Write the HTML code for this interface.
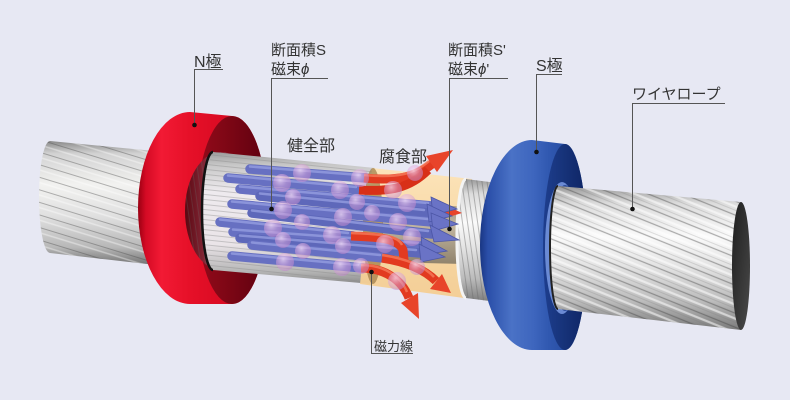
<!DOCTYPE html>
<html><head><meta charset="utf-8">
<style>
html,body{margin:0;padding:0;background:#e7e8f3;}
svg{display:block;}
text{font-family:"Liberation Sans","Noto Sans CJK JP",sans-serif;fill:#333;}
</style></head>
<body>
<svg width="790" height="400" viewBox="0 0 790 400" xmlns="http://www.w3.org/2000/svg">
<defs>
  <linearGradient id="ropeL" x1="0" y1="0" x2="0" y2="1">
    <stop offset="0" stop-color="#8a8a8a"/>
    <stop offset="0.1" stop-color="#d2d2d2"/>
    <stop offset="0.35" stop-color="#f2f2f0"/>
    <stop offset="0.6" stop-color="#e0e0e0"/>
    <stop offset="0.85" stop-color="#b8b8b8"/>
    <stop offset="1" stop-color="#6e6e6e"/>
  </linearGradient>
  <linearGradient id="ropeR" x1="0" y1="0" x2="0" y2="1">
    <stop offset="0" stop-color="#9a9a9a"/>
    <stop offset="0.12" stop-color="#dcdcdc"/>
    <stop offset="0.35" stop-color="#fafafa"/>
    <stop offset="0.55" stop-color="#e4e4e4"/>
    <stop offset="0.8" stop-color="#bcbcbc"/>
    <stop offset="1" stop-color="#7a7a7a"/>
  </linearGradient>
  <linearGradient id="ropeM" x1="0" y1="0" x2="0" y2="1">
    <stop offset="0" stop-color="#9c9c9c"/>
    <stop offset="0.1" stop-color="#c8c8c8"/>
    <stop offset="0.3" stop-color="#eeeaee"/>
    <stop offset="0.7" stop-color="#eae4e8"/>
    <stop offset="0.9" stop-color="#b8b8b8"/>
    <stop offset="1" stop-color="#8a8a8a"/>
  </linearGradient>
  <linearGradient id="cap" x1="0" y1="0" x2="1" y2="1">
    <stop offset="0" stop-color="#1e1e1e"/>
    <stop offset="1" stop-color="#4a4a4a"/>
  </linearGradient>
  <pattern id="stL" patternUnits="userSpaceOnUse" width="400" height="12" patternTransform="rotate(17)">
    <line x1="0" y1="2" x2="400" y2="2" stroke="#4a4a4a" stroke-width="1.1" opacity=".4"/>
    <line x1="0" y1="7" x2="400" y2="7" stroke="#ffffff" stroke-width="1.6" opacity=".4"/>
  </pattern>
  <pattern id="stR" patternUnits="userSpaceOnUse" width="500" height="13" patternTransform="rotate(22)">
    <line x1="0" y1="2" x2="500" y2="2" stroke="#404040" stroke-width="1.2" opacity=".42"/>
    <line x1="0" y1="7" x2="500" y2="7" stroke="#ffffff" stroke-width="2.2" opacity=".55"/>
    <line x1="0" y1="10.5" x2="500" y2="10.5" stroke="#777" stroke-width="0.8" opacity=".3"/>
  </pattern>
  <pattern id="stM" patternUnits="userSpaceOnUse" width="400" height="5" patternTransform="rotate(6)">
    <line x1="0" y1="2" x2="400" y2="2" stroke="#8a8a8a" stroke-width="0.9" opacity=".4"/>
  </pattern>
  <pattern id="stV" patternUnits="userSpaceOnUse" width="5" height="300" patternTransform="rotate(-8)">
    <line x1="2" y1="0" x2="2" y2="300" stroke="#6a6a6a" stroke-width="1" opacity=".45"/>
  </pattern>
  <linearGradient id="redHull" gradientUnits="userSpaceOnUse" x1="138" y1="0" x2="267" y2="0">
    <stop offset="0" stop-color="#9a0012"/>
    <stop offset="0.06" stop-color="#d40a24"/>
    <stop offset="0.18" stop-color="#f21a34"/>
    <stop offset="0.4" stop-color="#e61028"/>
    <stop offset="0.7" stop-color="#d80a22"/>
    <stop offset="1" stop-color="#b80018"/>
  </linearGradient>
  <linearGradient id="redFace" gradientUnits="userSpaceOnUse" x1="197" y1="0" x2="267" y2="0">
    <stop offset="0" stop-color="#940a1a"/>
    <stop offset="0.5" stop-color="#7a0614"/>
    <stop offset="1" stop-color="#5e0010"/>
  </linearGradient>
  <linearGradient id="redBore" gradientUnits="userSpaceOnUse" x1="185" y1="0" x2="210" y2="0">
    <stop offset="0" stop-color="#5a0812"/>
    <stop offset="1" stop-color="#8e3040"/>
  </linearGradient>
  <linearGradient id="blueHull" gradientUnits="userSpaceOnUse" x1="479" y1="0" x2="587" y2="0">
    <stop offset="0" stop-color="#17337e"/>
    <stop offset="0.08" stop-color="#2a4ea8"/>
    <stop offset="0.3" stop-color="#4a72c6"/>
    <stop offset="0.5" stop-color="#3e66be"/>
    <stop offset="0.65" stop-color="#3058b0"/>
    <stop offset="1" stop-color="#1e4090"/>
  </linearGradient>
  <linearGradient id="blueFace" gradientUnits="userSpaceOnUse" x1="543" y1="0" x2="587" y2="0">
    <stop offset="0" stop-color="#1e3e8e"/>
    <stop offset="0.5" stop-color="#163278"/>
    <stop offset="1" stop-color="#0e2464"/>
  </linearGradient>
  <linearGradient id="beige" x1="0" y1="0" x2="0" y2="1">
    <stop offset="0" stop-color="#fde3b6"/>
    <stop offset="0.5" stop-color="#f8d7a0"/>
    <stop offset="1" stop-color="#f4cd92"/>
  </linearGradient>
  <linearGradient id="core" x1="0" y1="0" x2="0" y2="1">
    <stop offset="0" stop-color="#7a7468"/>
    <stop offset="0.4" stop-color="#b0aa9e"/>
    <stop offset="1" stop-color="#6e685c"/>
  </linearGradient>
  <radialGradient id="sph" cx="0.4" cy="0.35" r="0.65">
    <stop offset="0" stop-color="#f6dcf6" stop-opacity="0.75"/>
    <stop offset="0.6" stop-color="#dca4dc" stop-opacity="0.5"/>
    <stop offset="1" stop-color="#c088cc" stop-opacity="0.55"/>
  </radialGradient>
</defs>

<rect width="790" height="400" fill="#e7e8f3"/>

<!-- LEFT ROPE -->
<path d="M50,141 L165,152 L165,266 L50,253 A11 56 0 0 1 50,141 Z" fill="url(#ropeL)"/>
<path d="M50,141 L165,152 L165,266 L50,253 A11 56 0 0 1 50,141 Z" fill="url(#stL)"/>

<!-- RED RING (N) -->
<path d="M190,112 L232,116 A35 94 0 0 1 232,304 L190,304 A52 96 0 0 1 190,112 Z" fill="url(#redHull)"/>
<ellipse cx="232" cy="210" rx="35" ry="94" fill="url(#redFace)"/>
<ellipse cx="221" cy="211" rx="36" ry="59" fill="url(#redBore)"/>
<ellipse cx="221" cy="211" rx="36" ry="59" fill="url(#stV)" opacity="0.6"/>

<!-- MIDDLE ROPE -->
<path d="M213,152 L375,168 L372,284 L213,270 A11 59 0 0 1 213,152 Z" fill="url(#ropeM)"/>
<path d="M213,152 L375,168 L372,284 L213,270 A11 59 0 0 1 213,152 Z" fill="url(#stM)"/>
<path d="M213,270 A11 59 0 0 1 213,152" fill="none" stroke="#111" stroke-width="2.5"/>

<!-- CORRODED SECTION -->
<path d="M372,168 L472,179 L464,298 L360,284 Z" fill="url(#beige)" opacity="0.95"/>
<path d="M382,200 L464,207 L464,264 L382,262 Z" fill="url(#core)" opacity="0.75"/>
<ellipse cx="373" cy="226" rx="10" ry="58" fill="#9c7a44" opacity="0.7"/>

<!-- GRAY SEGMENT -->
<path d="M466,179 L505,184 L505,303 L466,298 A9 59 0 0 1 466,179 Z" fill="url(#ropeR)"/>
<path d="M466,179 L505,184 L505,303 L466,298 A9 59 0 0 1 466,179 Z" fill="url(#stV)"/>
<path d="M466,298 A9 59 0 0 1 466,179" fill="none" stroke="#f4f4f4" stroke-width="3"/>

<!-- RED THIN ARROW (middle) -->
<line x1="395" y1="209" x2="445" y2="211" stroke="#e03a22" stroke-width="5"/>
<polygon points="445,205 462,213 445,218" fill="#e8442a"/>

<!-- BLUE RODS -->
<g stroke-linecap="round" fill="none">
  <line x1="250" y1="169" x2="366" y2="178" stroke="#6770c2" stroke-width="9.5"/>
  <line x1="228" y1="178" x2="361" y2="190" stroke="#6770c2" stroke-width="9.5"/>
  <line x1="240" y1="189" x2="432" y2="206" stroke="#6770c2" stroke-width="9.5"/>
  <line x1="260" y1="196" x2="428" y2="213" stroke="#5e68ba" stroke-width="9.5"/>
  <line x1="232" y1="204" x2="432" y2="222" stroke="#6770c2" stroke-width="9.5"/>
  <line x1="252" y1="213" x2="432" y2="234" stroke="#5e68ba" stroke-width="9.5"/>
  <line x1="220" y1="222" x2="353" y2="236" stroke="#6770c2" stroke-width="9.5"/>
  <line x1="233" y1="232" x2="422" y2="246" stroke="#6770c2" stroke-width="9.5"/>
  <line x1="240" y1="238" x2="420" y2="253" stroke="#5e68ba" stroke-width="9.5"/>
  <line x1="252" y1="245" x2="384" y2="258" stroke="#6770c2" stroke-width="9.5"/>
  <line x1="232" y1="256" x2="363" y2="268" stroke="#6770c2" stroke-width="9.5"/>
</g>
<g stroke-linecap="round" fill="none" stroke="#98a0e2" stroke-width="2.5" opacity="0.75">
  <line x1="250" y1="166.5" x2="360" y2="175"/>
  <line x1="228" y1="175.5" x2="356" y2="187"/>
  <line x1="240" y1="186.5" x2="428" y2="203"/>
  <line x1="260" y1="193.5" x2="424" y2="210"/>
  <line x1="232" y1="201.5" x2="428" y2="219"/>
  <line x1="252" y1="210.5" x2="428" y2="231"/>
  <line x1="220" y1="219.5" x2="348" y2="233"/>
  <line x1="233" y1="229.5" x2="418" y2="243"/>
  <line x1="240" y1="235.5" x2="416" y2="250"/>
  <line x1="252" y1="242.5" x2="380" y2="255"/>
  <line x1="232" y1="253.5" x2="358" y2="265"/>
</g>
<g fill="#6a73c6" stroke="#4c56a6" stroke-width="0.8">
  <polygon points="431,197 457,209 433,215"/>
  <polygon points="427,204 452,216 429,222"/>
  <polygon points="431,213 458,224 433,231"/>
  <polygon points="430,225 459,240 434,242"/>
  <polygon points="421,237 447,251 423,255"/>
  <polygon points="419,244 445,257 421,262"/>
</g>

<!-- RED ARROWS -->
<g fill="none" stroke-linecap="butt">
  <path d="M364,178 C395,181 415,178 432,164" stroke="#e23a20" stroke-width="9"/>
  <path d="M359,190 C390,192 410,188 428,170" stroke="#d83018" stroke-width="9"/>
  <path d="M351,236 C378,237 398,238 403,250 L404,260" stroke="#e23a20" stroke-width="9"/>
  <path d="M382,258 C408,262 425,270 436,281" stroke="#e23a20" stroke-width="9"/>
  <path d="M361,268 C385,268 402,280 409,298" stroke="#e23a20" stroke-width="9"/>
</g>
<g fill="none" stroke="#f57a5a" stroke-width="2.5" opacity="0.8">
  <path d="M364,175 C395,178 413,175 429,161"/>
  <path d="M351,233 C378,234 398,235 402,245"/>
  <path d="M382,255 C408,259 425,267 434,277"/>
  <path d="M361,265 C385,265 401,277 407,292"/>
</g>
<g fill="#e8442a">
  <polygon points="437,172 453,150 426,156"/>
  <polygon points="430,289 451,293 442,274"/>
  <polygon points="401,303 419,319 418,293"/>
</g>

<!-- SPHERES -->
<g fill="url(#sph)">
  <circle cx="302" cy="173" r="9"/>
  <circle cx="282" cy="183" r="9"/>
  <circle cx="360" cy="178" r="9"/>
  <circle cx="340" cy="190" r="9"/>
  <circle cx="293" cy="197" r="8"/>
  <circle cx="283" cy="210" r="9"/>
  <circle cx="343" cy="217" r="9"/>
  <circle cx="302" cy="222" r="8"/>
  <circle cx="273" cy="228" r="9"/>
  <circle cx="332" cy="235" r="9"/>
  <circle cx="283" cy="240" r="8"/>
  <circle cx="303" cy="251" r="8"/>
  <circle cx="343" cy="246" r="8"/>
  <circle cx="285" cy="262" r="9"/>
  <circle cx="342" cy="267" r="9"/>
  <circle cx="357" cy="202" r="8"/>
  <circle cx="415" cy="173" r="8"/>
  <circle cx="393" cy="190" r="9"/>
  <circle cx="407" cy="203" r="9"/>
  <circle cx="398" cy="222" r="9"/>
  <circle cx="412" cy="237" r="9"/>
  <circle cx="385" cy="244" r="9"/>
  <circle cx="417" cy="267" r="8"/>
  <circle cx="397" cy="281" r="9"/>
  <circle cx="361" cy="266" r="8"/>
  <circle cx="372" cy="213" r="8"/>
</g>

<!-- BLUE RING (S) -->
<path d="M532,140 L565,144 A22 103 0 0 1 565,350 L532,350 A52 105 0 0 1 532,140 Z" fill="url(#blueHull)"/>
<ellipse cx="565" cy="247" rx="22" ry="103" fill="url(#blueFace)"/>
<ellipse cx="562" cy="248" rx="17" ry="66" fill="#6a8ad4"/>
<ellipse cx="565" cy="248" rx="14" ry="63" fill="#2a4a9a"/>

<!-- RIGHT ROPE -->
<path d="M558,186 L741,202 L741,330 L558,309 A8 61.5 0 0 1 558,186 Z" fill="url(#ropeR)"/>
<path d="M558,186 L741,202 L741,330 L558,309 A8 61.5 0 0 1 558,186 Z" fill="url(#stR)"/>
<path d="M558,309 A8 61.5 0 0 1 558,186" fill="none" stroke="#222" stroke-width="2"/>
<ellipse cx="741" cy="266" rx="9" ry="64" fill="url(#cap)"/>

<!-- LEADERS -->
<g stroke="#555" stroke-width="1" fill="none">
  <polyline points="223,69.5 194.5,69.5 194.5,125"/>
  <polyline points="328,78.5 271.5,78.5 271.5,209"/>
  <polyline points="508,78.5 449.5,78.5 449.5,229"/>
  <polyline points="562,74.5 536.5,74.5 536.5,152"/>
  <polyline points="725,103.5 632.5,103.5 632.5,209"/>
  <polyline points="413,353.5 371.5,353.5 371.5,272"/>
</g>
<g fill="#111">
  <circle cx="194.5" cy="125" r="2.3"/>
  <circle cx="271.5" cy="209" r="2.3"/>
  <circle cx="449.5" cy="229" r="2.3"/>
  <circle cx="536.5" cy="152" r="2.3"/>
  <circle cx="632.5" cy="209" r="2.3"/>
  <circle cx="371.5" cy="272" r="2.3"/>
</g>

<!-- LABELS -->
<text x="194" y="67" font-size="16">N極</text>
<text x="271" y="55" font-size="15">断面積S</text>
<text x="271" y="74" font-size="15">磁束<tspan font-style="italic">ϕ</tspan></text>
<text x="448" y="55" font-size="15">断面積S'</text>
<text x="448" y="74" font-size="15">磁束<tspan font-style="italic">ϕ</tspan>'</text>
<text x="536" y="71" font-size="16">S極</text>
<text x="632" y="99" font-size="15">ワイヤロープ</text>
<text x="287" y="151" font-size="16">健全部</text>
<text x="379" y="162" font-size="16">腐食部</text>
<text x="374" y="351" font-size="13">磁力線</text>
</svg>
</body></html>
